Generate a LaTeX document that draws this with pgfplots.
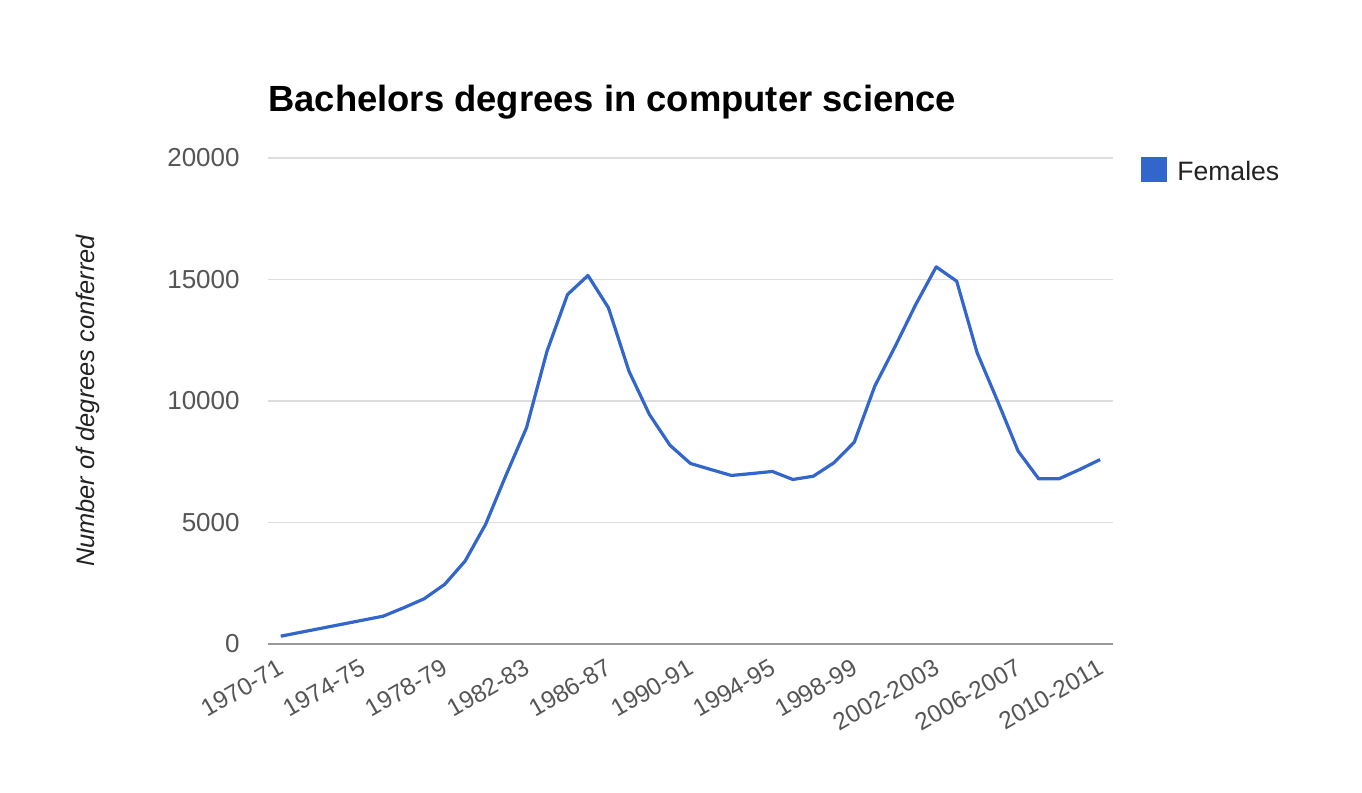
\documentclass[border=0pt]{standalone}
\usepackage{fontspec}
\setmainfont{Liberation Sans}
\usepackage{pgfplots}
\pgfplotsset{compat=1.18}
\definecolor{gblue}{HTML}{3366CC}
\definecolor{gridc}{HTML}{DDDDDD}
\definecolor{basec}{HTML}{999999}
\definecolor{tickc}{HTML}{555555}
\definecolor{labc}{HTML}{222222}
\begin{document}
\begin{tikzpicture}
\path[use as bounding box] (0,0) rectangle (681pt,396.5pt);
\node[anchor=base west, inner sep=0pt, font=\fontsize{18.2}{21}\selectfont\bfseries] at (134pt,340.5pt) {Bachelors degrees in computer science};
\begin{axis}[
  at={(134pt,74.5pt)}, anchor=south west,
  scale only axis, width=422.5pt, height=243pt,
  xmin=-0.62, xmax=40.63, ymin=0, ymax=20000,
  axis line style={draw=none},
  major tick length=0pt,
  xtick={0,4,...,40},
  xticklabels={1970-71,1974-75,1978-79,1982-83,1986-87,1990-91,1994-95,1998-99,2002-2003,2006-2007,2010-2011},
  xticklabel style={rotate=30, anchor=north east, inner sep=0pt, yshift=-5pt, xshift=-5pt, font=\fontsize{12.2}{14}\selectfont, text=tickc},
  ytick={5000,10000,15000,20000},
  extra y ticks={0},
  extra y tick style={grid style={color=basec, line width=1.2pt}},
  yticklabel style={anchor=east, inner sep=0pt, xshift=-14pt, font=\fontsize{13}{15}\selectfont, text=tickc},
  scaled y ticks=false,
  /pgf/number format/.cd, 1000 sep={}, assume math mode=true, /pgfplots/.cd,
  ymajorgrids, grid style={color=gridc, line width=0.7pt},
  ylabel={Number of degrees conferred},
  ylabel style={at={(axis description cs:-0.213,0.5)}, anchor=center, font=\fontsize{12.7}{14}\selectfont\itshape, text=labc},
  legend style={draw=none, at={(1.033,1.004)}, anchor=north west, yshift=-0.5pt, font=\fontsize{13.3}{15}\selectfont, text=labc, inner sep=0pt, column sep=0pt, nodes={inner sep=0pt}},
  legend cell align=left,
  legend image code/.code={\fill[gblue, draw=none] (0pt,-4.8pt) rectangle (13pt,7.7pt); \path[draw=none] (0pt,0pt) -- (18pt,0pt);},
]
\addplot[color=gblue, line width=1.6pt, line join=round] coordinates {
(0,320) (1,486) (2,650) (3,815) (4,980) (5,1144) (6,1490) (7,1860) (8,2450) (9,3410)
(10,4920) (11,6950) (12,8900) (13,12050) (14,14380) (15,15165) (16,13835) (17,11230) (18,9445) (19,8180)
(20,7430) (21,7180) (22,6935) (23,7015) (24,7100) (25,6770) (26,6905) (27,7455) (28,8305) (29,10610)
(30,12255) (31,13970) (32,15520) (33,14930) (34,11980) (35,9990) (36,7935) (37,6800) (38,6800) (39,7180)
(40,7590)
};
\addlegendentry{Females}
\end{axis}
\end{tikzpicture}
\end{document}
